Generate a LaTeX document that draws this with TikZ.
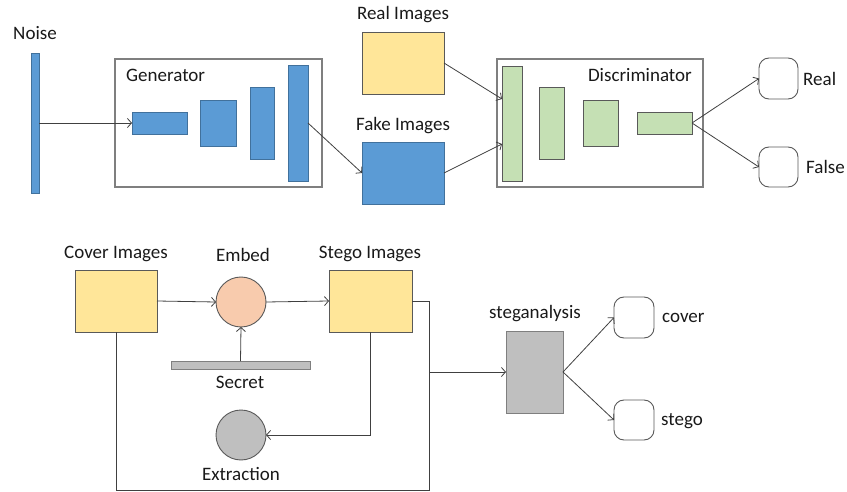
\documentclass[tikz,border=0pt]{standalone}
\usepackage{fontspec}
\setmainfont{Carlito}
\usetikzlibrary{arrows.meta,calc}
\definecolor{blkblue}{HTML}{5B9BD5}
\definecolor{blkblueline}{HTML}{41719C}
\definecolor{blkgreen}{HTML}{C5E0B4}
\definecolor{blkyellow}{HTML}{FFE699}
\definecolor{blkpeach}{HTML}{F8CBAD}
\definecolor{blkgray}{HTML}{BFBFBF}
\definecolor{edgegray}{HTML}{595959}
\definecolor{framegray}{HTML}{7F7F7F}
\tikzset{
  base/.style={inner sep=0pt, outer sep=0pt, line width=0.9pt},
  bluebox/.style={base, rectangle, fill=blkblue, draw=blkblueline},
  greenbox/.style={base, rectangle, fill=blkgreen, draw=edgegray},
  yellowbox/.style={base, rectangle, fill=blkyellow, draw=edgegray},
  graybox/.style={base, rectangle, fill=blkgray, draw=framegray},
  frame/.style={base, rectangle, draw=framegray, line width=1.1pt},
  outbox/.style={base, rectangle, rounded corners=10pt, fill=white, draw=edgegray},
  disc/.style={base, circle, draw=edgegray},
  lbl/.style={inner sep=0pt, font=\fontsize{19}{22}\selectfont, text=black!90},
  conn/.style={draw=black!75, line width=0.8pt},
  arr/.style={conn, -{Straight Barb[length=4pt,width=9pt]}},
}
\begin{document}
\begin{tikzpicture}[x=1pt,y=-1pt]
\useasboundingbox (0,0) rectangle (847,492);

% ---------- GAN ----------
\node[frame, minimum width=207, minimum height=128] (gen) at (218.5,123) {};
\node[frame, minimum width=206, minimum height=128] (dis) at (600,123) {};

\node[bluebox, minimum width=8, minimum height=140] (noise) at (35,123) {};
\node[bluebox, minimum width=55, minimum height=22] (g1) at (159.5,123) {};
\node[bluebox, minimum width=36, minimum height=46] (g2) at (218,123) {};
\node[bluebox, minimum width=24, minimum height=72] (g3) at (262,123) {};
\node[bluebox, minimum width=20, minimum height=116] (g4) at (298,123) {};

\node[yellowbox, minimum width=82, minimum height=62] (real) at (403,63) {};
\node[bluebox, minimum width=82, minimum height=62] (fake) at (403,173) {};

\node[greenbox, minimum width=20, minimum height=115] (d1) at (512,123.5) {};
\node[greenbox, minimum width=25, minimum height=72] (d2) at (551.5,123) {};
\node[greenbox, minimum width=35, minimum height=46] (d3) at (600.5,123) {};
\node[greenbox, minimum width=55, minimum height=22] (d4) at (664.5,123) {};

\node[outbox, minimum width=39, minimum height=41] (oreal) at (778.5,78.5) {};
\node[outbox, minimum width=39, minimum height=40] (ofalse) at (778.5,167) {};

\node[lbl] (tnoise) at (35,33) {Noise};
\node[lbl, anchor=west] (tgen) at (126,75) {Generator};
\node[lbl] (treal) at (403,15) {Real Images};
\node[lbl] (tfake) at (403,126) {Fake Images};
\node[lbl, anchor=east] (tdis) at (692,75) {Discriminator};
\node[lbl, anchor=west] (toreal) at (803,79) {Real};
\node[lbl, anchor=west] (tofalse) at (806,167) {False};

\draw[arr] (noise.east) -- (g1.west);
\draw[arr] (g4.east) -- (fake.west);
\draw[arr] (real.east) -- ([yshift=24.5pt]d1.west);
\draw[arr] (fake.east) -- ([yshift=-20.5pt]d1.west);
\draw[arr] (d4.east) -- (oreal.west);
\draw[arr] (d4.east) -- (ofalse.west);

% ---------- Steganography ----------
\node[yellowbox, minimum width=82, minimum height=62] (cover) at (116,301) {};
\node[disc, fill=blkpeach, minimum size=50] (embed) at (241,302) {};
\node[yellowbox, minimum width=83, minimum height=62] (stego) at (370.5,301) {};
\node[graybox, minimum width=139, minimum height=8] (secret) at (240.5,365) {};
\node[disc, fill=blkgray, minimum size=50] (extract) at (241,435) {};
\node[graybox, minimum width=57, minimum height=82] (steg) at (534.5,372) {};
\node[outbox, minimum width=40, minimum height=41] (ocover) at (634,317.5) {};
\node[outbox, minimum width=40, minimum height=40] (ostego) at (634,420) {};

\node[lbl] (tcover) at (116,254) {Cover Images};
\node[lbl] (tembed) at (243,255) {Embed};
\node[lbl] (tstego) at (370,254) {Stego Images};
\node[lbl] (tsecret) at (240,382) {Secret};
\node[lbl] (textract) at (241,474) {Extraction};
\node[lbl] (tsteg) at (535,314) {steganalysis};
\node[lbl, anchor=west] (tocover) at (662,318) {cover};
\node[lbl, anchor=west] (tostego) at (661,421) {stego};

\coordinate (jtop) at (429,301);
\coordinate (jbot) at (429,490);
\coordinate (lbot) at (116,490);

\draw[arr] (cover.east) -- (embed.west);
\draw[arr] (embed.east) -- (stego.west);
\draw[arr] (secret.north) -- (embed.south);
\draw[arr] (stego.south) |- (extract.east);
\draw[conn] (stego.east) -- (jtop) -- (jbot) -- (lbot) -- (cover.south);
\draw[arr] (jtop |- steg.west) -- (steg.west);
\draw[arr] (steg.east) -- (ocover.west);
\draw[arr] (steg.east) -- (ostego.west);
\end{tikzpicture}
\end{document}
